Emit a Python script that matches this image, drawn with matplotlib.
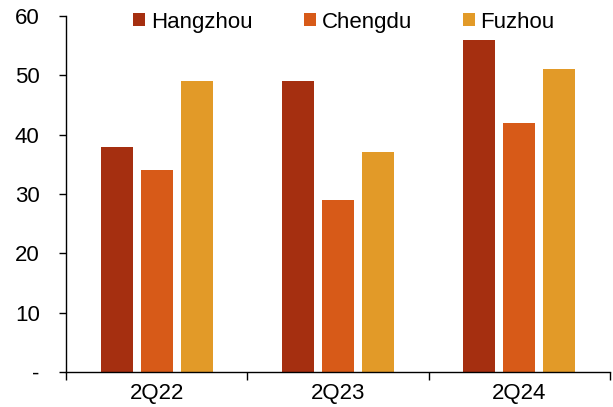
import matplotlib
matplotlib.use("Agg")
import matplotlib.pyplot as plt
import numpy as np

plt.rcParams['font.family'] = ['Liberation Sans', 'DejaVu Sans']

categories = ["2Q22", "2Q23", "2Q24"]
series_names = ["Hangzhou", "Chengdu", "Fuzhou"]
hangzhou = [38, 49, 56]
chengdu = [34, 29, 42]
fuzhou = [49, 37, 51]
colors = ["#A52F10", "#D75A18", "#E29A28"]
y_ticks = [0, 10, 20, 30, 40, 50, 60]
y_tick_labels = ["-", "10", "20", "30", "40", "50", "60"]

fig = plt.figure(figsize=(6.13, 4.07), dpi=100)
ax = fig.add_axes([0.1077, 0.086, 0.8873, 0.8747])

x = np.arange(len(categories))
width = 0.176
step = 0.22
for i, (vals, name, c) in enumerate(zip([hangzhou, chengdu, fuzhou], series_names, colors)):
    ax.bar(x + (i - 1) * step, vals, width=width, color=c, label=name)

ax.set_xlim(-0.5, 2.5)
ax.set_ylim(0, 60)
ax.set_yticks(y_ticks)
ax.set_yticklabels(y_tick_labels, fontsize=16)
ax.tick_params(axis='y', direction='out', length=5, width=1, pad=14)

# category labels centered, tick marks between groups
ax.set_xticks([-0.5, 0.5, 1.5, 2.5])
ax.set_xticklabels([])
ax.tick_params(axis='x', direction='out', length=6, width=1)
ax.set_xticks(x, minor=True)
ax.set_xticklabels(categories, minor=True, fontsize=16)
ax.tick_params(axis='x', which='minor', length=0, pad=8)

for s in ["top", "right"]:
    ax.spines[s].set_visible(False)
for s in ["left", "bottom"]:
    ax.spines[s].set_linewidth(1)

ax.legend(loc='center', bbox_to_anchor=(0.511, 0.983), ncol=3, frameon=False,
          fontsize=16, handlelength=0.55, handleheight=0.55, handletextpad=0.25,
          columnspacing=2.3)

fig.savefig("out.png", dpi=100)
